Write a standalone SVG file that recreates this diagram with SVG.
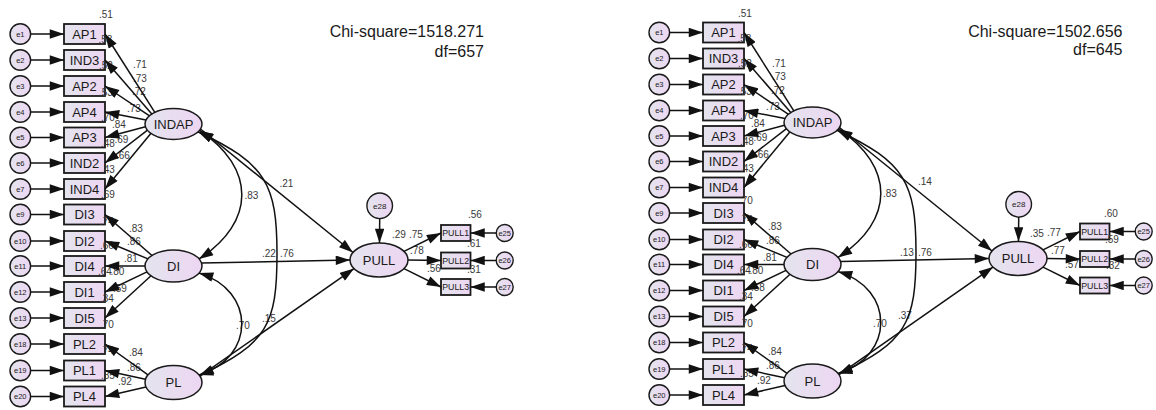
<svg xmlns="http://www.w3.org/2000/svg" width="1156" height="410" viewBox="0 0 1156 410">
<defs>
<linearGradient id="g" x1="0" y1="0" x2="1" y2="0"><stop offset="0" stop-color="#e4e4ee"/><stop offset="1" stop-color="#edd6f2"/></linearGradient>
<marker id="ah" viewBox="0 0 15 10" refX="15" refY="5" markerWidth="15" markerHeight="9.5" markerUnits="userSpaceOnUse" orient="auto-start-reverse"><path d="M0,0 L15,5 L0,10 z" fill="#111"/></marker>
<style>
.box{fill:url(#g);stroke:#1a1a1a;stroke-width:1.8}
.lat{fill:url(#g);stroke:#1a1a1a;stroke-width:1.5}
.err{fill:url(#g);stroke:#1a1a1a;stroke-width:1.4}
.bt{font-family:"Liberation Sans",Arial,sans-serif;font-size:13px;fill:#1a1a1a;text-anchor:middle}
.et{font-family:"Liberation Sans",Arial,sans-serif;font-size:7.5px;fill:#1a1a1a;text-anchor:middle}
.pt{font-family:"Liberation Sans",Arial,sans-serif;font-size:8.8px;fill:#1a1a1a;text-anchor:middle}
.n{font-family:"Liberation Sans",Arial,sans-serif;font-size:10px;fill:#3a3a3a}
.chi{font-family:"Liberation Sans",Arial,sans-serif;font-size:16px;fill:#1a1a1a;text-anchor:end}
.c{fill:none;stroke:#111;stroke-width:1.5;marker-end:url(#ah)}
.cv{fill:none;stroke:#111;stroke-width:1.5;marker-start:url(#ah);marker-end:url(#ah)}
</style>
</defs>
<rect width="1156" height="410" fill="#fff"/>

<g id="model1">
<g id="a-AP1"><rect class="box" x="64" y="24" width="41" height="20"/><text class="bt" x="84.5" y="38.6">AP1</text><text class="n" x="99" y="18">.51</text></g>
<g id="a-IND3"><rect class="box" x="64" y="50" width="41" height="20"/><text class="bt" x="84.5" y="64.6">IND3</text><text class="n" x="98.5" y="43">.53</text></g>
<g id="a-AP2"><rect class="box" x="64" y="76" width="41" height="20"/><text class="bt" x="84.5" y="90.6">AP2</text><text class="n" x="99" y="68.5">.52</text></g>
<g id="a-AP4"><rect class="box" x="64" y="102" width="41" height="20"/><text class="bt" x="84.5" y="116.6">AP4</text><text class="n" x="99" y="96">.53</text></g>
<g id="a-AP3"><rect class="box" x="64" y="127.5" width="41" height="20"/><text class="bt" x="84.5" y="142.1">AP3</text><text class="n" x="101" y="120.5">.70</text></g>
<g id="a-IND2"><rect class="box" x="64" y="153" width="41" height="20"/><text class="bt" x="84.5" y="167.6">IND2</text><text class="n" x="101" y="146.5">.48</text></g>
<g id="a-IND4"><rect class="box" x="64" y="179" width="41" height="20"/><text class="bt" x="84.5" y="193.6">IND4</text><text class="n" x="101" y="173">.43</text></g>
<g id="a-DI3"><rect class="box" x="64" y="204.5" width="41" height="20"/><text class="bt" x="84.5" y="219.1">DI3</text><text class="n" x="101" y="198">.69</text></g>
<g id="a-DI2"><rect class="box" x="64" y="231" width="41" height="20"/><text class="bt" x="84.5" y="245.6">DI2</text><text class="n" x="100" y="224.5">.74</text></g>
<g id="a-DI4"><rect class="box" x="64" y="256" width="41" height="20"/><text class="bt" x="84.5" y="270.6">DI4</text><text class="n" x="100" y="249">.66</text></g>
<g id="a-DI1"><rect class="box" x="64" y="282" width="41" height="20"/><text class="bt" x="84.5" y="296.6">DI1</text><text class="n" x="98" y="275">.64</text></g>
<g id="a-DI5"><rect class="box" x="64" y="308" width="41" height="20"/><text class="bt" x="84.5" y="322.6">DI5</text><text class="n" x="100" y="301.5">.34</text></g>
<g id="a-PL2"><rect class="box" x="64" y="334" width="41" height="20"/><text class="bt" x="84.5" y="348.6">PL2</text><text class="n" x="100" y="328">.70</text></g>
<g id="a-PL1"><rect class="box" x="64" y="360.5" width="41" height="20"/><text class="bt" x="84.5" y="375.1">PL1</text><text class="n" x="100" y="353.5">.74</text></g>
<g id="a-PL4"><rect class="box" x="64" y="386.5" width="41" height="20"/><text class="bt" x="84.5" y="401.1">PL4</text><text class="n" x="101" y="378.5">.85</text></g>

<g id="a-e1"><circle class="err" cx="20.3" cy="34" r="10.3"/><text class="et" x="20.3" y="36.7">e1</text></g>
<g id="a-e2"><circle class="err" cx="20.3" cy="60" r="10.3"/><text class="et" x="20.3" y="62.7">e2</text></g>
<g id="a-e3"><circle class="err" cx="20.3" cy="86" r="10.3"/><text class="et" x="20.3" y="88.7">e3</text></g>
<g id="a-e4"><circle class="err" cx="20.3" cy="112" r="10.3"/><text class="et" x="20.3" y="114.7">e4</text></g>
<g id="a-e5"><circle class="err" cx="20.3" cy="137.5" r="10.3"/><text class="et" x="20.3" y="140.2">e5</text></g>
<g id="a-e6"><circle class="err" cx="20.3" cy="163" r="10.3"/><text class="et" x="20.3" y="165.7">e6</text></g>
<g id="a-e7"><circle class="err" cx="20.3" cy="189" r="10.3"/><text class="et" x="20.3" y="191.7">e7</text></g>
<g id="a-e9"><circle class="err" cx="20.3" cy="214.5" r="10.3"/><text class="et" x="20.3" y="217.2">e9</text></g>
<g id="a-e10"><circle class="err" cx="20.3" cy="241" r="10.3"/><text class="et" x="20.3" y="243.7">e10</text></g>
<g id="a-e11"><circle class="err" cx="20.3" cy="266" r="10.3"/><text class="et" x="20.3" y="268.7">e11</text></g>
<g id="a-e12"><circle class="err" cx="20.3" cy="292" r="10.3"/><text class="et" x="20.3" y="294.7">e12</text></g>
<g id="a-e13"><circle class="err" cx="20.3" cy="318" r="10.3"/><text class="et" x="20.3" y="320.7">e13</text></g>
<g id="a-e18"><circle class="err" cx="20.3" cy="344" r="10.3"/><text class="et" x="20.3" y="346.7">e18</text></g>
<g id="a-e19"><circle class="err" cx="20.3" cy="370.5" r="10.3"/><text class="et" x="20.3" y="373.2">e19</text></g>
<g id="a-e20"><circle class="err" cx="20.3" cy="396.5" r="10.3"/><text class="et" x="20.3" y="399.2">e20</text></g>

<g id="a-INDAP"><ellipse class="lat" cx="173.5" cy="124" rx="28.5" ry="15.5"/><text class="bt" x="173.5" y="128.6">INDAP</text></g>
<g id="a-DI"><ellipse class="lat" cx="173.5" cy="266" rx="28.5" ry="16"/><text class="bt" x="173.5" y="270.6">DI</text></g>
<g id="a-PL"><ellipse class="lat" cx="173.5" cy="382.5" rx="28.5" ry="17"/><text class="bt" x="173.5" y="387.1">PL</text></g>
<g id="a-PULL"><ellipse class="lat" cx="379" cy="260" rx="29" ry="17"/><text class="bt" x="379" y="264.6">PULL</text><text class="n" x="392" y="238">.29</text></g>
<g id="a-e28"><circle class="err" cx="379.7" cy="205.8" r="12.8"/><text class="et" x="379.7" y="208.6" style="font-size:8px">e28</text></g>
<g id="a-PULL1"><rect class="box" x="441" y="225" width="29.5" height="16"/><text class="pt" x="455.7" y="236.2">PULL1</text><text class="n" x="468" y="218">.56</text></g>
<g id="a-PULL2"><rect class="box" x="441" y="252.5" width="29.5" height="16"/><text class="pt" x="455.7" y="263.7">PULL2</text><text class="n" x="467" y="246.5">.61</text></g>
<g id="a-PULL3"><rect class="box" x="441" y="279" width="29.5" height="16"/><text class="pt" x="455.7" y="290.2">PULL3</text><text class="n" x="467" y="273">.31</text></g>
<g id="a-e25"><circle class="err" cx="504.7" cy="233" r="8.5"/><text class="et" x="504.7" y="235.6">e25</text></g>
<g id="a-e26"><circle class="err" cx="504.7" cy="260.5" r="8.5"/><text class="et" x="504.7" y="263.1">e26</text></g>
<g id="a-e27"><circle class="err" cx="504.7" cy="287" r="8.5"/><text class="et" x="504.7" y="289.6">e27</text></g>

<g id="a-labels">
<text class="n" x="133" y="68">.71</text><text class="n" x="133" y="81.5">.73</text><text class="n" x="132" y="95">.72</text><text class="n" x="127" y="111.5">.73</text><text class="n" x="112" y="128">.84</text><text class="n" x="114.5" y="142.5">.69</text><text class="n" x="116" y="159">.66</text>
<text class="n" x="129" y="231.5">.83</text><text class="n" x="127" y="245">.86</text><text class="n" x="124" y="262">.81</text><text class="n" x="110.5" y="275">.80</text><text class="n" x="113" y="292">.59</text>
<text class="n" x="129" y="356">.84</text><text class="n" x="127" y="370.5">.86</text><text class="n" x="118" y="385">.92</text>
<text class="n" x="279.5" y="186.5">.21</text><text class="n" x="244.5" y="199">.83</text><text class="n" x="262" y="257">.22</text><text class="n" x="280" y="257">.76</text><text class="n" x="236" y="329">.70</text><text class="n" x="262" y="321.5">.15</text>
<text class="n" x="409" y="238">.75</text><text class="n" x="410" y="254">.78</text><text class="n" x="427" y="271.5">.56</text>
</g>

<g id="a-connectors">
<path class="c" d="M30.6,34 H64"/><path class="c" d="M30.6,60 H64"/><path class="c" d="M30.6,86 H64"/><path class="c" d="M30.6,112 H64"/><path class="c" d="M30.6,137.5 H64"/><path class="c" d="M30.6,163 H64"/><path class="c" d="M30.6,189 H64"/><path class="c" d="M30.6,214.5 H64"/><path class="c" d="M30.6,241 H64"/><path class="c" d="M30.6,266 H64"/><path class="c" d="M30.6,292 H64"/><path class="c" d="M30.6,318 H64"/><path class="c" d="M30.6,344 H64"/><path class="c" d="M30.6,370.5 H64"/><path class="c" d="M30.6,396.5 H64"/>
<path class="c" d="M155,112.6 L105,34"/><path class="c" d="M152,114.2 L105,60"/><path class="c" d="M149.5,115.9 L105,86"/><path class="c" d="M146,120.1 L105,112"/><path class="c" d="M145.5,126.8 L105,137.5"/><path class="c" d="M147.5,130.2 L105,163"/><path class="c" d="M151,133.2 L105,189"/>
<path class="c" d="M152,255.5 L105,214.5"/><path class="c" d="M148,258.9 L105,241"/><path class="c" d="M145,266 L105,266"/><path class="c" d="M147,271.9 L105,292"/><path class="c" d="M151,275.8 L105,318"/>
<path class="c" d="M148,374.9 L105,344"/><path class="c" d="M145.5,379.3 L105,370.5"/><path class="c" d="M146,387 L105,396.5"/>
<path class="c" d="M200.5,129 L353,252.5"/><path class="c" d="M201.5,263 L350,260"/><path class="c" d="M200,376.2 L354,268.6"/>
<path class="c" d="M379.7,218.6 L379.5,243"/>
<path class="c" d="M404,251.4 L441,233"/><path class="c" d="M408,260 L441,260.5"/><path class="c" d="M404,268.6 L441,287"/>
<path class="c" d="M496.2,233 H470.5"/><path class="c" d="M496.2,260.5 H470.5"/><path class="c" d="M496.2,287 H470.5"/>
<path class="cv" d="M199.5,130.3 C256,168 256,222 199,258.9"/>
<path class="cv" d="M198,131.7 C266,163.7 277,184 277,254 C277,324 267.5,343.8 199.5,375.5"/>
<path class="cv" d="M199,273.1 C256,290 256,358 199,374.9"/>
</g>
</g>

<g id="model2" transform="translate(639,-1.5)">
<g id="b-AP1"><rect class="box" x="64" y="24" width="41" height="20"/><text class="bt" x="84.5" y="38.6">AP1</text><text class="n" x="99" y="18">.51</text></g>
<g id="b-IND3"><rect class="box" x="64" y="50" width="41" height="20"/><text class="bt" x="84.5" y="64.6">IND3</text><text class="n" x="98.5" y="43">.53</text></g>
<g id="b-AP2"><rect class="box" x="64" y="76" width="41" height="20"/><text class="bt" x="84.5" y="90.6">AP2</text><text class="n" x="99" y="68.5">.52</text></g>
<g id="b-AP4"><rect class="box" x="64" y="102" width="41" height="20"/><text class="bt" x="84.5" y="116.6">AP4</text><text class="n" x="99" y="96">.53</text></g>
<g id="b-AP3"><rect class="box" x="64" y="127.5" width="41" height="20"/><text class="bt" x="84.5" y="142.1">AP3</text><text class="n" x="101" y="120.5">.70</text></g>
<g id="b-IND2"><rect class="box" x="64" y="153" width="41" height="20"/><text class="bt" x="84.5" y="167.6">IND2</text><text class="n" x="101" y="146.5">.48</text></g>
<g id="b-IND4"><rect class="box" x="64" y="179" width="41" height="20"/><text class="bt" x="84.5" y="193.6">IND4</text><text class="n" x="101" y="173">.43</text></g>
<g id="b-DI3"><rect class="box" x="64" y="204.5" width="41" height="20"/><text class="bt" x="84.5" y="219.1">DI3</text><text class="n" x="100" y="205.5">.70</text></g>
<g id="b-DI2"><rect class="box" x="64" y="231" width="41" height="20"/><text class="bt" x="84.5" y="245.6">DI2</text><text class="n" x="100" y="224.5">.74</text></g>
<g id="b-DI4"><rect class="box" x="64" y="256" width="41" height="20"/><text class="bt" x="84.5" y="270.6">DI4</text><text class="n" x="100" y="249">.66</text></g>
<g id="b-DI1"><rect class="box" x="64" y="282" width="41" height="20"/><text class="bt" x="84.5" y="296.6">DI1</text><text class="n" x="98" y="275">.64</text></g>
<g id="b-DI5"><rect class="box" x="64" y="308" width="41" height="20"/><text class="bt" x="84.5" y="322.6">DI5</text><text class="n" x="100" y="301.5">.34</text></g>
<g id="b-PL2"><rect class="box" x="64" y="334" width="41" height="20"/><text class="bt" x="84.5" y="348.6">PL2</text><text class="n" x="100" y="328">.70</text></g>
<g id="b-PL1"><rect class="box" x="64" y="360.5" width="41" height="20"/><text class="bt" x="84.5" y="375.1">PL1</text><text class="n" x="100" y="353.5">.74</text></g>
<g id="b-PL4"><rect class="box" x="64" y="386.5" width="41" height="20"/><text class="bt" x="84.5" y="401.1">PL4</text><text class="n" x="101" y="378.5">.85</text></g>

<g id="b-e1"><circle class="err" cx="20.3" cy="34" r="10.3"/><text class="et" x="20.3" y="36.7">e1</text></g>
<g id="b-e2"><circle class="err" cx="20.3" cy="60" r="10.3"/><text class="et" x="20.3" y="62.7">e2</text></g>
<g id="b-e3"><circle class="err" cx="20.3" cy="86" r="10.3"/><text class="et" x="20.3" y="88.7">e3</text></g>
<g id="b-e4"><circle class="err" cx="20.3" cy="112" r="10.3"/><text class="et" x="20.3" y="114.7">e4</text></g>
<g id="b-e5"><circle class="err" cx="20.3" cy="137.5" r="10.3"/><text class="et" x="20.3" y="140.2">e5</text></g>
<g id="b-e6"><circle class="err" cx="20.3" cy="163" r="10.3"/><text class="et" x="20.3" y="165.7">e6</text></g>
<g id="b-e7"><circle class="err" cx="20.3" cy="189" r="10.3"/><text class="et" x="20.3" y="191.7">e7</text></g>
<g id="b-e9"><circle class="err" cx="20.3" cy="214.5" r="10.3"/><text class="et" x="20.3" y="217.2">e9</text></g>
<g id="b-e10"><circle class="err" cx="20.3" cy="241" r="10.3"/><text class="et" x="20.3" y="243.7">e10</text></g>
<g id="b-e11"><circle class="err" cx="20.3" cy="266" r="10.3"/><text class="et" x="20.3" y="268.7">e11</text></g>
<g id="b-e12"><circle class="err" cx="20.3" cy="292" r="10.3"/><text class="et" x="20.3" y="294.7">e12</text></g>
<g id="b-e13"><circle class="err" cx="20.3" cy="318" r="10.3"/><text class="et" x="20.3" y="320.7">e13</text></g>
<g id="b-e18"><circle class="err" cx="20.3" cy="344" r="10.3"/><text class="et" x="20.3" y="346.7">e18</text></g>
<g id="b-e19"><circle class="err" cx="20.3" cy="370.5" r="10.3"/><text class="et" x="20.3" y="373.2">e19</text></g>
<g id="b-e20"><circle class="err" cx="20.3" cy="396.5" r="10.3"/><text class="et" x="20.3" y="399.2">e20</text></g>

<g id="b-INDAP"><ellipse class="lat" cx="173.5" cy="124" rx="28.5" ry="15.5"/><text class="bt" x="173.5" y="128.6">INDAP</text></g>
<g id="b-DI"><ellipse class="lat" cx="173.5" cy="266" rx="28.5" ry="16"/><text class="bt" x="173.5" y="270.6">DI</text></g>
<g id="b-PL"><ellipse class="lat" cx="173.5" cy="382.5" rx="28.5" ry="17"/><text class="bt" x="173.5" y="387.1">PL</text></g>
<g id="b-PULL"><ellipse class="lat" cx="379" cy="260" rx="29" ry="17"/><text class="bt" x="379" y="264.6">PULL</text><text class="n" x="391" y="238">.35</text></g>
<g id="b-e28"><circle class="err" cx="379.7" cy="205.8" r="12.8"/><text class="et" x="379.7" y="208.6" style="font-size:8px">e28</text></g>
<g id="b-PULL1"><rect class="box" x="441" y="225" width="29.5" height="16"/><text class="pt" x="455.7" y="236.2">PULL1</text><text class="n" x="465" y="218">.60</text></g>
<g id="b-PULL2"><rect class="box" x="441" y="252.5" width="29.5" height="16"/><text class="pt" x="455.7" y="263.7">PULL2</text><text class="n" x="466" y="244">.59</text></g>
<g id="b-PULL3"><rect class="box" x="441" y="279" width="29.5" height="16"/><text class="pt" x="455.7" y="290.2">PULL3</text><text class="n" x="467" y="270">.32</text></g>
<g id="b-e25"><circle class="err" cx="504.7" cy="233" r="8.5"/><text class="et" x="504.7" y="235.6">e25</text></g>
<g id="b-e26"><circle class="err" cx="504.7" cy="260.5" r="8.5"/><text class="et" x="504.7" y="263.1">e26</text></g>
<g id="b-e27"><circle class="err" cx="504.7" cy="287" r="8.5"/><text class="et" x="504.7" y="289.6">e27</text></g>

<g id="b-labels">
<text class="n" x="133" y="68">.71</text><text class="n" x="133" y="81.5">.73</text><text class="n" x="132" y="95">.72</text><text class="n" x="127" y="111.5">.73</text><text class="n" x="112" y="128">.84</text><text class="n" x="114.5" y="142.5">.69</text><text class="n" x="116" y="159">.66</text>
<text class="n" x="129" y="231.5">.83</text><text class="n" x="127" y="245">.86</text><text class="n" x="124" y="262">.81</text><text class="n" x="110.5" y="275">.80</text><text class="n" x="112" y="292">.58</text>
<text class="n" x="129" y="356">.84</text><text class="n" x="127" y="370.5">.86</text><text class="n" x="118" y="385">.92</text>
<text class="n" x="279" y="186.2">.14</text><text class="n" x="244" y="198.5">.83</text><text class="n" x="261" y="257.5">.13</text><text class="n" x="279" y="257.5">.76</text><text class="n" x="234" y="328.2">.70</text><text class="n" x="259" y="320.8">.37</text>
<text class="n" x="408" y="237.5">.77</text><text class="n" x="412" y="255.5">.77</text><text class="n" x="426" y="269.5">.57</text>
</g>

<g id="b-connectors">
<path class="c" d="M30.6,34 H64"/><path class="c" d="M30.6,60 H64"/><path class="c" d="M30.6,86 H64"/><path class="c" d="M30.6,112 H64"/><path class="c" d="M30.6,137.5 H64"/><path class="c" d="M30.6,163 H64"/><path class="c" d="M30.6,189 H64"/><path class="c" d="M30.6,214.5 H64"/><path class="c" d="M30.6,241 H64"/><path class="c" d="M30.6,266 H64"/><path class="c" d="M30.6,292 H64"/><path class="c" d="M30.6,318 H64"/><path class="c" d="M30.6,344 H64"/><path class="c" d="M30.6,370.5 H64"/><path class="c" d="M30.6,396.5 H64"/>
<path class="c" d="M155,112.6 L105,34"/><path class="c" d="M152,114.2 L105,60"/><path class="c" d="M149.5,115.9 L105,86"/><path class="c" d="M146,120.1 L105,112"/><path class="c" d="M145.5,126.8 L105,137.5"/><path class="c" d="M147.5,130.2 L105,163"/><path class="c" d="M151,133.2 L105,189"/>
<path class="c" d="M152,255.5 L105,214.5"/><path class="c" d="M148,258.9 L105,241"/><path class="c" d="M145,266 L105,266"/><path class="c" d="M147,271.9 L105,292"/><path class="c" d="M151,275.8 L105,318"/>
<path class="c" d="M148,374.9 L105,344"/><path class="c" d="M145.5,379.3 L105,370.5"/><path class="c" d="M146,387 L105,396.5"/>
<path class="c" d="M200.5,129 L353,252.5"/><path class="c" d="M201.5,263 L350,260"/><path class="c" d="M200,376.2 L354,268.6"/>
<path class="c" d="M379.7,218.6 L379.5,243"/>
<path class="c" d="M404,251.4 L441,233"/><path class="c" d="M408,260 L441,260.5"/><path class="c" d="M404,268.6 L441,287"/>
<path class="c" d="M496.2,233 H470.5"/><path class="c" d="M496.2,260.5 H470.5"/><path class="c" d="M496.2,287 H470.5"/>
<path class="cv" d="M199.5,130.3 C256,168 256,222 199,258.9"/>
<path class="cv" d="M198,131.7 C266,163.7 277,184 277,254 C277,324 267.5,343.8 199.5,375.5"/>
<path class="cv" d="M199,273.1 C256,290 256,358 199,374.9"/>
</g>
</g>

<g id="fit">
<text class="chi" x="484" y="37">Chi-square=1518.271</text>
<text class="chi" x="484" y="57">df=657</text>
<text class="chi" x="1122.5" y="36.7">Chi-square=1502.656</text>
<text class="chi" x="1122.5" y="55">df=645</text>
</g>
</svg>
